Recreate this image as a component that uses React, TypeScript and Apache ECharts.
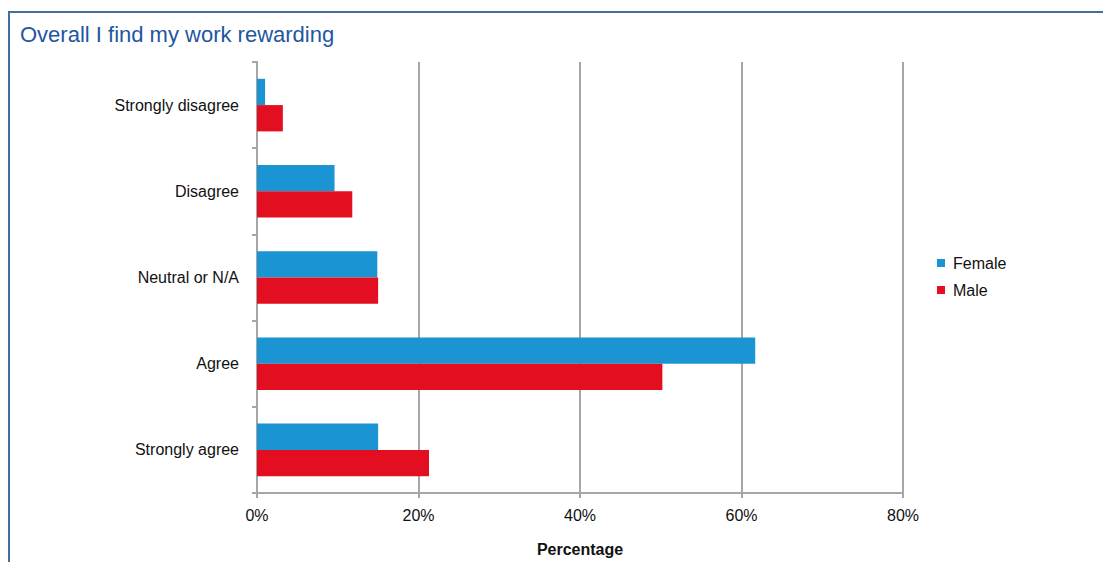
import React, { useEffect, useRef } from "react";
import * as echarts from "echarts";

const categories = ["Strongly disagree", "Disagree", "Neutral or N/A", "Agree", "Strongly agree"];
const femaleValues = [1.0, 9.6, 14.9, 61.7, 15.0];
const maleValues = [3.2, 11.8, 15.0, 50.2, 21.3];
const xTicks = [0, 20, 40, 60, 80];
const seriesNames = ["Female", "Male"];

const FONT = "'Liberation Sans', Arial, sans-serif";

export default function App() {
  const ref = useRef<HTMLDivElement>(null);
  useEffect(() => {
    if (!ref.current) return;
    const chart = echarts.init(ref.current, undefined, { renderer: "svg" });
    chart.setOption({
      animation: false,
      backgroundColor: "#ffffff",
      title: {
        text: "Overall I find my work rewarding",
        left: 15,
        top: 18,
        textStyle: { fontFamily: FONT, fontSize: 22, fontWeight: "normal", color: "#1f56a0" },
      },
      graphic: [
        { type: "line", shape: { x1: 9, y1: 12, x2: 9, y2: 562 }, style: { stroke: "#41709e", lineWidth: 2 } },
        { type: "line", shape: { x1: 8, y1: 12, x2: 1103, y2: 12 }, style: { stroke: "#41709e", lineWidth: 2 } },
      ],
      legend: {
        orient: "vertical",
        left: 932,
        top: 250,
        icon: "rect",
        itemWidth: 8,
        itemHeight: 8,
        itemGap: 11,
        data: seriesNames,
        textStyle: { fontFamily: FONT, fontSize: 16, color: "#111", padding: [0, 0, 0, 3] },
      },
      grid: { left: 257, right: 200, top: 62, bottom: 69, containLabel: false },
      xAxis: {
        type: "value",
        min: xTicks[0],
        max: xTicks[xTicks.length - 1],
        interval: 20,
        name: "Percentage",
        nameLocation: "middle",
        nameGap: 48,
        nameTextStyle: { fontFamily: FONT, fontSize: 16, fontWeight: "bold", color: "#111" },
        axisLine: { show: true, lineStyle: { color: "#a6a6a6", width: 2 } },
        axisTick: { show: true, length: 5, lineStyle: { color: "#a6a6a6", width: 2 } },
        axisLabel: { formatter: "{value}%", margin: 14, fontFamily: FONT, fontSize: 16, color: "#111" },
        splitLine: { show: true, lineStyle: { color: "#a6a6a6", width: 2 } },
      },
      yAxis: {
        type: "category",
        data: categories,
        inverse: true,
        axisLine: { show: true, lineStyle: { color: "#a6a6a6", width: 2 } },
        axisTick: { show: true, length: 5, lineStyle: { color: "#a6a6a6", width: 2 } },
        axisLabel: { margin: 18, fontFamily: FONT, fontSize: 16, color: "#111" },
      },
      series: [
        {
          name: seriesNames[0],
          type: "bar",
          data: femaleValues,
          itemStyle: { color: "#1a94d2" },
          barGap: "0%",
          barCategoryGap: "39%",
        },
        {
          name: seriesNames[1],
          type: "bar",
          data: maleValues,
          itemStyle: { color: "#e30e20" },
          barGap: "0%",
          barCategoryGap: "39%",
        },
      ],
    });
    return () => chart.dispose();
  }, []);
  return (
    <div
      ref={ref}
      style={{ position: "absolute", left: 0, top: 0, width: 1103, height: 562 }}
    />
  );
}
